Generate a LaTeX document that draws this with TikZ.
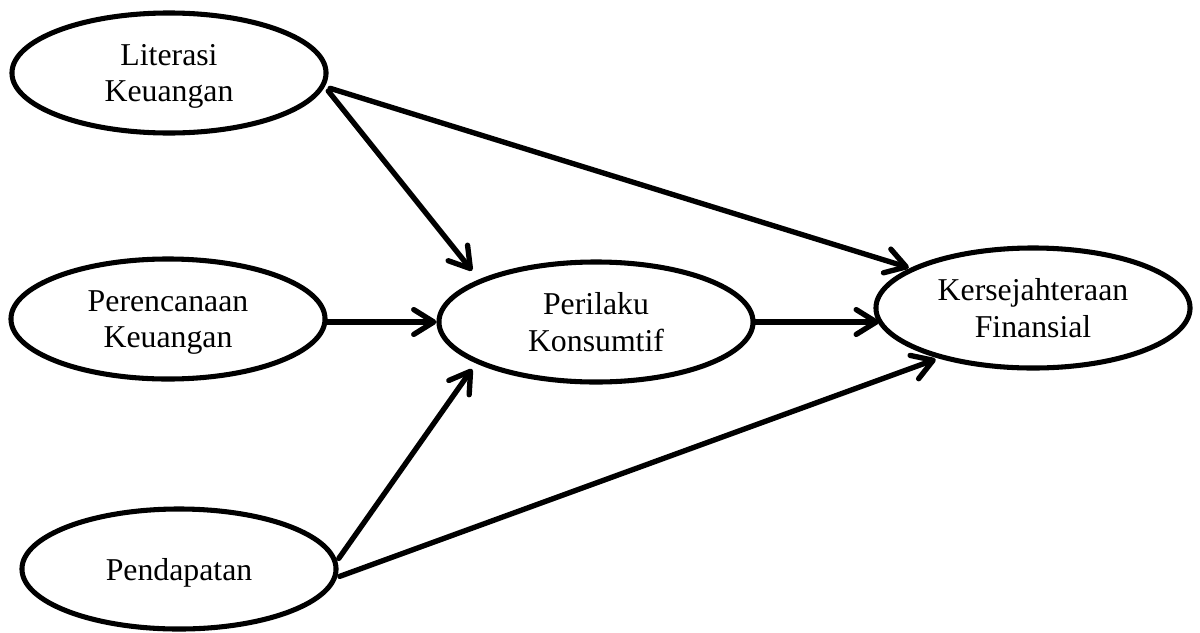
\documentclass[tikz,border=0pt]{standalone}
\usepackage{fontspec}
\setmainfont{Liberation Serif}
\usetikzlibrary{shapes.geometric,arrows.meta}
\begin{document}
\begin{tikzpicture}[x=0.025cm,y=-0.025cm,
  var/.style={draw=black,line width=3.6pt,ellipse,minimum width=7.85cm,minimum height=3cm,
    inner sep=0pt,align=center,text depth=0pt,font=\fontsize{22.6}{25.8}\selectfont},
  arr/.style={line width=3.8pt,line cap=round,-{Straight Barb[length=0.5cm,width=0.62cm,round]}}]
\useasboundingbox (0,0) rectangle (1200,632);
\node[var] (lit) at (169,73) {Literasi\\Keuangan};
\node[var] (pr) at (168,319) {Perencanaan\\Keuangan};
\node[var] (pd) at (179,569) {Pendapatan};
\node[var] (pk) at (596,322) {Perilaku\\Konsumtif};
\node[var] (ks) at (1033,308) {Kersejahteraan\\Finansial};
\draw[arr,shorten <=4pt,shorten >=8pt] (lit.-5) -- (pk.160);
\draw[arr,shorten <=4pt,shorten >=1pt] (lit.-5) -- (ks.162);
\draw[arr] (pr.east |- pk.center) -- (pk.west);
\draw[arr,shorten <=2pt,shorten >=5pt] (pd.3) -- (pk.199);
\draw[arr,shorten <=2pt,shorten >=2pt] (pd.-3) -- (ks.208);
\draw[arr] (pk.east) -- (pk.east -| ks.186);
\end{tikzpicture}
\end{document}
